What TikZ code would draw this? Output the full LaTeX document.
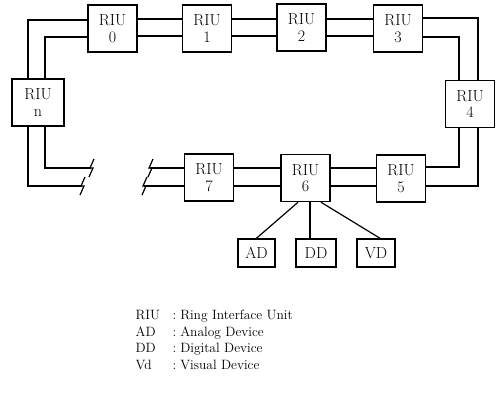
\documentclass[tikz,border=0pt]{standalone}
\begin{document}
\begin{tikzpicture}[x=1pt,y=-1pt,line width=1.2pt,
  unit/.style={draw,line width=1.5pt,minimum width=49pt,minimum height=47pt,inner sep=0pt,align=center,font=\fontsize{16}{16.5}\selectfont},
  dev/.style={draw,line width=1.5pt,minimum width=38pt,minimum height=28pt,inner sep=0pt,font=\fontsize{16}{16.5}\selectfont}]
\useasboundingbox (0,0) rectangle (498,394);
% ring interface units
\node[unit] (riu0) at (112.5,28.5) {RIU\\0};
\node[unit] (riu1) at (207,28.5) {RIU\\1};
\node[unit] (riu2) at (301.5,27.5) {RIU\\2};
\node[unit] (riu3) at (398,28.5) {RIU\\3};
\node[unit] (riu4) at (470,104) {RIU\\4};
\node[unit] (riu5) at (401,178.5) {RIU\\5};
\node[unit] (riu6) at (305.5,178) {RIU\\6};
\node[unit] (riu7) at (209,177.5) {RIU\\7};
\node[unit,minimum width=52pt] (riun) at (38,102.5) {RIU\\n};
% devices
\node[dev,minimum width=37pt] (ad) at (256.5,253) {AD};
\node[dev,minimum width=40pt] (dd) at (316,253) {DD};
\node[dev] (vd) at (376,253) {VD};
% double ring lines
\foreach \a/\b in {riu0/riu1,riu1/riu2,riu2/riu3} {
  \draw (\a.east |- 0,19) -- (\b.west |- 0,19);
  \draw (\a.east |- 0,36) -- (\b.west |- 0,36);
}
\foreach \a/\b in {riu7/riu6,riu6/riu5} {
  \draw (\a.east |- 0,168) -- (\b.west |- 0,168);
  \draw (\a.east |- 0,186) -- (\b.west |- 0,186);
}
\draw (riun.north -| 28,0) |- (riu0.west |- 0,20);
\draw (riun.north -| 45,0) |- (riu0.west |- 0,37);
\draw (riu3.east |- 0,18) -| (riu4.north -| 478,0);
\draw (riu3.east |- 0,37) -| (riu4.north -| 459,0);
\draw (riu4.south -| 459,0) |- (riu5.east |- 0,167);
\draw (riu4.south -| 478,0) |- (riu5.east |- 0,186);
% broken part of the ring
\coordinate (brk1) at (91,168);
\coordinate (brk2) at (82,186);
\coordinate (brk3) at (150,168);
\coordinate (brk4) at (144,186);
\draw (riun.south -| 45,0) |- (brk1);
\draw (riun.south -| 28,0) |- (brk2);
\draw (brk3) -- (riu7.west |- brk3);
\draw (brk4) -- (riu7.west |- brk4);
\foreach \c in {brk1,brk2,brk3,brk4}
  \draw (\c) ++(3,-9) -- ++(-4,9) -- ++(3,0) -- ++(-4,9);
% device links
\draw ([xshift=-7.5pt]riu6.south) -- (ad.north);
\draw ([xshift=4.5pt]riu6.south) -- ([xshift=4.5pt]riu6.south |- dd.north);
\draw ([xshift=15.5pt]riu6.south) -- ([xshift=4pt]vd.north);
% legend
\node[anchor=north west,inner sep=0pt,font=\fontsize{13.5}{16.5}\selectfont] (legend) at (135,307.5)
  {\begin{tabular}{@{}p{37pt}@{:\hspace{4pt}}l@{}}
   RIU & Ring Interface Unit\\
   AD  & Analog Device\\
   DD  & Digital Device\\
   Vd  & Visual Device
   \end{tabular}};
\end{tikzpicture}
\end{document}
